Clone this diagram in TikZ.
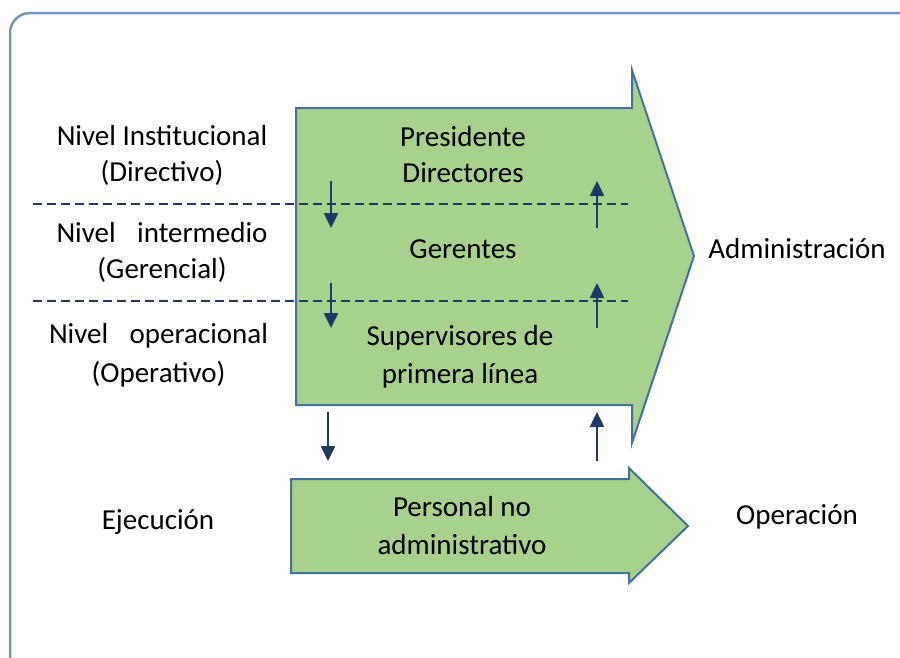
\documentclass[tikz,border=0pt]{standalone}
\usepackage{fontspec}
\setmainfont{Carlito}
\usetikzlibrary{arrows.meta}
\definecolor{framegray}{HTML}{7496BA}
\definecolor{arrowgreen}{HTML}{A9D18E}
\definecolor{arrowedge}{HTML}{41719C}
\definecolor{navy}{HTML}{1F3864}

\begin{document}
\begin{tikzpicture}[x=1pt, y=-1pt,
  every node/.style={font=\fontsize{29}{36}\selectfont, align=center, inner sep=0pt},
  widelines/.style={font=\fontsize{29}{38.5}\selectfont},
  bigarrow/.style={fill=arrowgreen, draw=arrowedge, line width=2pt, line join=miter},
  levelline/.style={navy, line width=1.5pt, dash pattern=on 9pt off 5pt},
  flow/.style={navy, line width=2.5pt, -{Triangle[width=14pt,length=15pt]}}]
  \useasboundingbox (0,0) rectangle (900,657);
  \clip (0,0) rectangle (900,657);
  % frame
  \draw[framegray, line width=2.5pt, rounded corners=20pt] (10,13) rectangle (930,690);
  % arrows
  \draw[bigarrow] (296,108) -- (632,108) -- (632,70) -- (694,256) -- (632,443)
    -- (632,405) -- (296,405) -- cycle;
  \draw[bigarrow] (291,479) -- (629,479) -- (629,468) -- (688,526) -- (629,583)
    -- (629,573) -- (291,573) -- cycle;
  % level lines
  \foreach \y [count=\i] in {204,301} {
    \coordinate (lw\i) at (33,\y);
    \coordinate (le\i) at (628,\y);
    \draw[levelline] (lw\i) -- (le\i);
  }
  % flows
  \foreach \ya/\yb/\xd [count=\i] in {181/228/331, 283/328/331, 412/461/328} {
    \coordinate (dn\i) at (\xd,\ya);
    \coordinate (dm\i) at (\xd,\yb);
    \coordinate (up\i) at (597,\yb);
    \coordinate (um\i) at (597,\ya);
    \draw[flow] (dn\i) -- (dm\i);
    \draw[flow] (up\i) -- (um\i);
  }
  % labels
  \node (inst) at (162,155) {Nivel Institucional\\(Directivo)};
  \node (inter) at (162,252) {\makebox[211pt]{Nivel\hfill intermedio}\\(Gerencial)};
  \node[widelines] (oper) at (158.5,355.5) {\makebox[219pt]{Nivel\hfill operacional}\\(Operativo)};
  \node (ejec) at (158,522) {Ejecución};
  \node (pres) at (463,155) {Presidente\\Directores};
  \node (ger) at (463,249) {Gerentes};
  \node[widelines] (sup) at (460,357) {Supervisores de\\primera línea};
  \node[widelines] (pers) at (462,525.5) {Personal no\\administrativo};
  \node (admin) at (797,249) {Administración};
  \node (opn) at (797,517) {Operación};
\end{tikzpicture}
\end{document}
